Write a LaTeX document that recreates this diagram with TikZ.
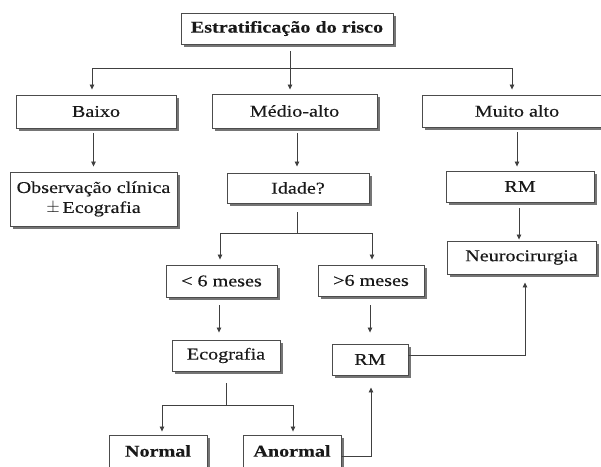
\documentclass[tikz,border=0pt]{standalone}
\usepackage{fontspec}
\setmainfont{Liberation Serif}[FakeStretch=1.22,FakeBold=0.3]
\usetikzlibrary{arrows.meta,shadows}
\begin{document}
\begin{tikzpicture}[x=1pt,y=-1pt,
  box/.style={draw=black!70, line width=0.9pt, fill=white, inner sep=0pt,
    align=center, text=black!90,
    font=\fontsize{16.5}{20}\selectfont,
    drop shadow={shadow xshift=2.5pt, shadow yshift=-2.5pt, fill=black!60, opacity=0.9}},
  bf/.style={font=\fontsize{16.5}{20}\selectfont\bfseries},
  ln/.style={draw=black!75, line width=0.8pt},
  arr/.style={ln, -{Triangle[length=5pt,width=4.5pt]}}
]
\useasboundingbox (0,0) rectangle (601,466);
% boxes
\node[box, bf, minimum width=212pt, minimum height=31pt] (top) at (287,28.5) {Estratificação do risco};
\node[box, minimum width=160pt, minimum height=33pt] (baixo) at (96,111.5) {Baixo};
\node[box, minimum width=165pt, minimum height=34pt] (medio) at (294.5,111) {Médio-alto};
\node[box, minimum width=190pt, minimum height=32pt] (muito) at (517,111) {Muito alto};
\node[box, minimum width=167pt, minimum height=54pt] (obs) at (93.5,199) {Observação clínica\\$\pm$\,Ecografia};
\node[box, minimum width=142pt, minimum height=30pt] (idade) at (298,188) {Idade?};
\node[box, minimum width=148pt, minimum height=31pt] (rma) at (520,186.5) {RM};
\node[box, minimum width=149pt, minimum height=33pt] (neuro) at (521.5,257.5) {Neurocirurgia};
\node[box, minimum width=111pt, minimum height=32pt] (lt) at (221.5,281) {< 6 meses};
\node[box, minimum width=106pt, minimum height=31pt] (gt) at (371,280.5) {>6 meses};
\node[box, minimum width=108pt, minimum height=31pt] (eco) at (226,355.5) {Ecografia};
\node[box, minimum width=76pt, minimum height=31pt] (rmb) at (370,359.5) {RM};
\node[box, bf, minimum width=98pt, minimum height=32pt] (normal) at (158,451) {Normal};
\node[box, bf, minimum width=98pt, minimum height=32pt] (anormal) at (292,451) {Anormal};
% junctions
\coordinate (j1) at (290,68);
\coordinate (j2) at (297,233);
\coordinate (j3) at (226,405);
% connectors
\draw[arr, shorten <=7pt, shorten >=4pt] (top.south -| j1) -- (medio.north -| j1);
\draw[arr, shorten >=5pt] (j1) -| ([xshift=-4pt]baixo.north);
\draw[arr, shorten >=5pt] (j1) -| ([xshift=-5pt]muito.north);
\draw[arr, shorten <=5pt, shorten >=5pt] (baixo.south -| obs.north) -- (obs.north);
\draw[arr, shorten <=5pt, shorten >=6pt] (medio.south -| j2) -- (idade.north -| j2);
\draw[arr, shorten <=5pt, shorten >=4pt] (muito.south) -- (muito.south |- rma.north);
\draw[ln, shorten <=9pt] (idade.south -| j2) -- (j2);
\draw[arr, shorten >=5pt] (j2) -| ([xshift=-1.5pt]lt.north);
\draw[arr, shorten >=5pt] (j2) -| ([xshift=1pt]gt.north);
\draw[arr, shorten <=8pt, shorten >=7pt] ([xshift=-2.5pt]lt.south) -- ([xshift=-2.5pt]lt.south |- eco.north);
\draw[arr, shorten <=9pt, shorten >=11pt] ([xshift=-1pt]gt.south) -- ([xshift=-1pt]gt.south |- rmb.north);
\draw[arr, shorten <=6pt, shorten >=1pt] ([xshift=-1pt]rma.south) -- ([xshift=-1pt]rma.south |- neuro.north);
\draw[ln, shorten <=12pt] (eco.south -| j3) -- (j3);
\draw[arr, shorten >=3pt] (j3) -| ([xshift=4pt]normal.north);
\draw[arr, shorten >=3pt] (j3) -| ([xshift=1pt]anormal.north);
\draw[arr, shorten >=8pt] ([yshift=4.5pt]rmb.east) -| ([xshift=3.5pt]neuro.south);
\draw[arr, shorten >=12pt] ([yshift=-5pt]anormal.east) -| ([xshift=1pt]rmb.south);
\end{tikzpicture}
\end{document}
